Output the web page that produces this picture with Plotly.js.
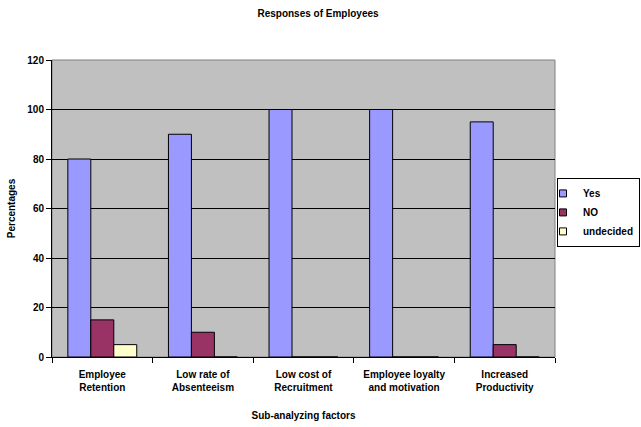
<!DOCTYPE html>
<html><head><meta charset="utf-8">
<script src="https://cdn.plot.ly/plotly-3.0.1.min.js"></script>
<style>html,body{margin:0;padding:0;background:#fff}#c{width:641px;height:427px}</style>
</head><body><div id="c"></div>
<script>
const categories = ["Employee<br>Retention", "Low rate of<br>Absenteeism", "Low cost of<br>Recruitment", "Employee loyalty<br>and motivation", "Increased<br>Productivity"];
const seriesNames = ["Yes", "NO", "undecided"];
const yesValues = [80, 90, 100, 100, 95];
const noValues = [15, 10, 0, 0, 5];
const undecidedValues = [5, 0, 0, 0, 0];
const yTicks = [0, 20, 40, 60, 80, 100, 120];
const colors = ["#9999FF", "#993366", "#FFFFCC"];

const F = "Liberation Sans, Arial, sans-serif";
const values = [yesValues, noValues, undecidedValues];
const data = [];
values.forEach((v, i) => data.push({
  type: "bar", name: seriesNames[i], x: categories, y: v, showlegend: false,
  marker: {color: colors[i], line: {color: "#000", width: 1}}
}));
// legend entries (small square keys like the original)
seriesNames.forEach((n, i) => data.push({
  type: "scatter", mode: "markers", name: n, x: [categories[0]], y: [null],
  marker: {symbol: "square", size: 7, color: colors[i], line: {color: "#000", width: 1}}
}));

const W = 641, L = 52, R = 0, plotW = 503;
const pw = W - L - R;
const layout = {
  width: 641, height: 427,
  margin: {l: L, r: R, t: 60, b: 70},
  paper_bgcolor: "#fff", plot_bgcolor: "#C0C0C0",
  font: {family: F, size: 10, color: "#000", weight: "bold"},
  title: {text: "<b>Responses of Employees</b>", font: {family: F, size: 10}, x: 318 / W, xanchor: "center", y: 0.969, yanchor: "middle"},
  barmode: "group", bargap: 0.315, bargroupgap: 0,
  showlegend: true,
  legend: {x: (557 - L) / pw, xanchor: "left", y: 0.603, yanchor: "top", bordercolor: "#000", borderwidth: 1, bgcolor: "#fff",
    font: {family: F, size: 10, weight: "bold"}, tracegroupgap: 0, itemwidth: 30, indentation: -15},
  xaxis: {
    domain: [0, plotW / pw],
    type: "category", tickson: "boundaries", ticks: "outside", ticklen: 5, tickcolor: "#000",
    showline: true, linecolor: "#000", linewidth: 1, showgrid: false, ticklabelstandoff: 8,
    tickfont: {family: F, size: 10, weight: "bold"},
    title: {text: "<b>Sub-analyzing factors</b>", font: {family: F, size: 10}, standoff: 19}
  },
  yaxis: {
    range: [0, 120], tickvals: yTicks, ticks: "outside", ticklen: 5, tickcolor: "#000",
    showline: true, linecolor: "#000", linewidth: 1, showgrid: true, gridcolor: "#000", gridwidth: 1,
    zeroline: false, tickfont: {family: F, size: 10, weight: "bold"},
    title: {text: "<b>Percentages</b>", font: {family: F, size: 10}, standoff: 9}
  },
  shapes: [{type: "rect", xref: "x domain", yref: "y domain", x0: 0, x1: 1, y0: 0, y1: 1, line: {color: "#808080", width: 1}, layer: "below"}]
};
Plotly.newPlot("c", data, layout, {staticPlot: true});
</script></body></html>
